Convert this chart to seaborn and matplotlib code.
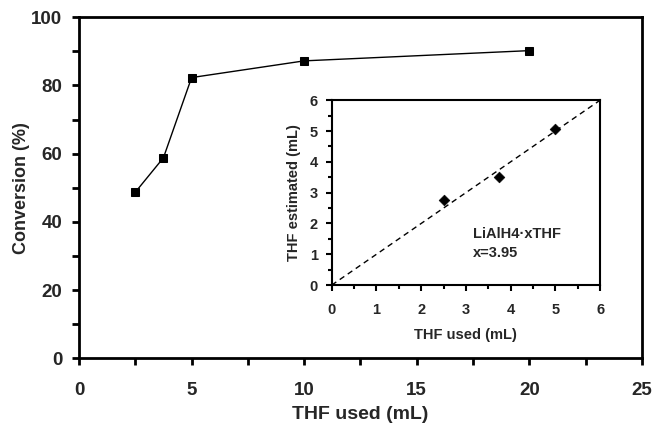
import numpy as np
import pandas as pd
import matplotlib
matplotlib.use("Agg")
import matplotlib.pyplot as plt
from matplotlib.ticker import MultipleLocator
import seaborn as sns

# Main data
thf_used = [2.5, 3.75, 5, 10, 20]
conversion = [48.7, 58.8, 82.3, 87.2, 90.2]

# Inset data
inset_used = [2.5, 3.75, 5]
inset_estimated = [2.75, 3.5, 5.07]
ideal_line = [0, 6]

sns.set_style("ticks")
plt.rcParams['font.family'] = ['Liberation Sans', 'DejaVu Sans']
plt.rcParams['font.weight'] = 'bold'
plt.rcParams['axes.labelweight'] = 'bold'

fig = plt.figure(figsize=(6.53, 4.30), dpi=100)
ax = fig.add_axes([0.121, 0.1667, 0.862, 0.7933])

df = pd.DataFrame({"used": thf_used, "conv": conversion})
sns.lineplot(data=df, x="used", y="conv", ax=ax, color="black", linewidth=1,
             marker="s", markersize=6, markeredgecolor="black", markerfacecolor="black")
ax.set_xlim(0, 25)
ax.set_ylim(0, 100)
ax.xaxis.set_major_locator(MultipleLocator(5))
ax.xaxis.set_minor_locator(MultipleLocator(2.5))
ax.yaxis.set_major_locator(MultipleLocator(20))
ax.yaxis.set_minor_locator(MultipleLocator(10))
ax.tick_params(axis='both', which='major', direction='out', length=5, width=2,
               labelsize=13.5, color='black')
ax.tick_params(axis='both', which='minor', direction='out', length=5, width=2, color='black')
ax.tick_params(axis='x', which='major', pad=12)
ax.tick_params(axis='y', which='major', pad=7)
for s in ax.spines.values():
    s.set_visible(True)
    s.set_linewidth(2)
    s.set_color('black')
ax.set_xlabel("THF used (mL)", fontsize=14, fontweight='bold', labelpad=5)
ax.set_ylabel("Conversion (%)", fontsize=13, fontweight='bold', labelpad=1)
for lab in ax.get_xticklabels() + ax.get_yticklabels():
    lab.set_fontweight('bold')

# Inset
ax2 = fig.add_axes([0.508, 0.337, 0.411, 0.430])
dline = pd.DataFrame({"x": ideal_line, "y": ideal_line})
sns.lineplot(data=dline, x="x", y="y", ax=ax2, color="black", linewidth=1, linestyle=(0, (4, 3)))
dins = pd.DataFrame({"used": inset_used, "est": inset_estimated})
sns.scatterplot(data=dins, x="used", y="est", ax=ax2, marker="D", s=30, color="black",
                edgecolor="black", zorder=3)
ax2.set_xlim(0, 6)
ax2.set_ylim(0, 6)
ax2.xaxis.set_major_locator(MultipleLocator(1))
ax2.xaxis.set_minor_locator(MultipleLocator(0.5))
ax2.yaxis.set_major_locator(MultipleLocator(1))
ax2.yaxis.set_minor_locator(MultipleLocator(0.5))
ax2.tick_params(axis='both', which='major', direction='out', length=4, width=1.5,
                labelsize=10.5, color='black')
ax2.tick_params(axis='both', which='minor', direction='out', length=3, width=1.5, color='black')
ax2.tick_params(axis='x', which='major', pad=9)
ax2.tick_params(axis='y', which='major', pad=6)
for s in ax2.spines.values():
    s.set_visible(True)
    s.set_linewidth(1.5)
    s.set_color('black')
ax2.set_xlabel("THF used (mL)", fontsize=10.5, fontweight='bold', labelpad=8)
ax2.set_ylabel("THF estimated (mL)", fontsize=10.5, fontweight='bold', labelpad=6)
for lab in ax2.get_xticklabels() + ax2.get_yticklabels():
    lab.set_fontweight('bold')
ax2.text(3.15, 1.36, "LiAlH4·xTHF\nx=3.95", fontsize=10.5, fontweight='bold',
         ha='left', va='center', linespacing=1.45)

fig.savefig("out.png", dpi=100)
